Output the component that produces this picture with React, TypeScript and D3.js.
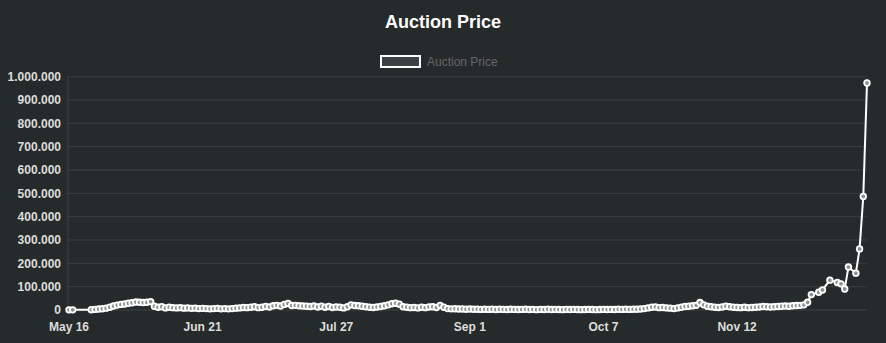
import React from 'react';
import * as d3 from 'd3';

// daily auction price, starting at firstDay; null = no auction that day
const firstDay = '2021-05-16';
const prices: (number | null)[] = [
  600, 700, null, null, null, null, 1200, 2500, 4000, 5500,
  8000, 12000, 17000, 21000, 24000, 26000, 29000, 31000, 34000, 33000,
  32000, 33000, 36000, 16000, 12000, 14000, 9000, 12000, 10000, 9000,
  10000, 8000, 9000, 7000, 8000, 6000, 7000, 6000, 5000, 6000,
  7000, 5000, 6000, 5000, 6000, 8000, 9000, 11000, 10000, 12000,
  14000, 10000, 12000, 15000, 13000, 18000, 20000, 17000, 24000, 28000,
  19000, 20000, 18000, 17000, 16000, 15000, 17000, 13000, 16000, 12000,
  15000, 11000, 13000, 12000, 9000, 14000, 22000, 19000, 18000, 16000,
  14000, 12000, 11000, 13000, 15000, 18000, 22000, 27000, 29000, 25000,
  14000, 12000, 10000, 11000, 9000, 12000, 10000, 13000, 14000, 11000,
  20000, 12000, 6000, 5000, 5500, 4000, 4500, 3500, 4000, 3000,
  3500, 2500, 3000, 2500, 3500, 2000, 3000, 2500, 2000, 3000,
  2500, 2000, 2500, 3000, 2000, 2500, 1500, 2500, 2000, 3000,
  2000, 2500, 2000, 1500, 2500, 2000, 2500, 2000, 1500, 2000,
  2500, 2000, 1500, 2000, 2500, 2000, 2500, 2000, 3000, 2500,
  3000, 2500, 3500, 3000, 4000, 6000, 9000, 12000, 13000, 10000,
  11000, 9000, 8000, 6000, 9000, 12000, 15000, 16000, 18000, 20000,
  32000, 22000, 16000, 14000, 12000, 11000, 13000, 16000, 14000, 12000,
  11000, 10000, 12000, 10000, 11000, 12000, 13000, 15000, 14000, 13000,
  14000, 15000, 16000, 17000, 16000, 18000, 19000, 20000, 22000, 33000,
  66000, null, 76000, 86000, null, 128000, null, 118000, 112000, 90000,
  184000, null, 158000, 262000, 487000, 973000,
];

const tickLabels = ['May 16', 'Jun 21', 'Jul 27', 'Sep 1', 'Oct 7', 'Nov 12'];
const priceTicks = [0, 100000, 200000, 300000, 400000, 500000, 600000, 700000, 800000, 900000, 1000000];

const title = 'Auction Price';
const seriesName = 'Auction Price';

const W = 886;
const H = 343;
const plot = { left: 68, right: 867, top: 76.7, bottom: 310 };

const font = '"Liberation Sans", Arial, Helvetica, sans-serif';
const bg = '#252b2b';
const grid = 'rgba(255,255,255,0.1)';
const boxFill = '#3c4242';
const pointFill = '#8a8f8f';

const parseDay = d3.timeParse('%Y-%m-%d');
const parseTick = d3.timeParse('%b %d %Y');
const fmt = d3.formatLocale({ decimal: ',', thousands: '.', grouping: [3], currency: ['', ''] }).format(',d');

export default function App() {
  const start = parseDay(firstDay) as Date;
  const data = prices
    .map((v, i) => ({ date: d3.timeDay.offset(start, i), value: v }))
    .filter((d) => d.value !== null) as { date: Date; value: number }[];

  const x = d3
    .scaleTime()
    .domain([start, data[data.length - 1].date])
    .range([plot.left + 1, plot.right]);
  const y = d3.scaleLinear().domain([0, 1000000]).range([plot.bottom, plot.top]);

  const line = d3
    .line<{ date: Date; value: number }>()
    .x((d) => x(d.date))
    .y((d) => y(d.value));

  const tickDates = tickLabels.map((t) => parseTick(`${t} 2021`) as Date);

  return (
    <svg
      width={W}
      height={H}
      style={{ position: 'absolute', left: 0, top: 0, background: bg, fontFamily: font }}
    >
      <rect width={W} height={H} fill={bg} />
      <text x={W / 2} y={28} textAnchor="middle" fontSize={18} fontWeight="bold" fill="#fff">
        {title}
      </text>

      {/* legend */}
      <rect x={381} y={56} width={39} height={11} fill={boxFill} stroke="#fff" strokeWidth={2} />
      <text x={427} y={66} fontSize={12} fill="#666">
        {seriesName}
      </text>

      {/* grid */}
      {priceTicks.map((t) => (
        <g key={t}>
          <line x1={plot.left} x2={plot.right} y1={y(t)} y2={y(t)} stroke={grid} strokeWidth={1} />
          <text
            x={61}
            y={y(t)}
            dy="0.35em"
            textAnchor="end"
            fontSize={12}
            fontWeight="bold"
            fill="#ddd"
          >
            {fmt(t)}
          </text>
        </g>
      ))}
      <line x1={plot.left} x2={plot.left} y1={plot.top} y2={plot.bottom} stroke={grid} />

      {tickDates.map((d, i) => (
        <text
          key={tickLabels[i]}
          x={x(d)}
          y={331}
          textAnchor="middle"
          fontSize={12}
          fontWeight="bold"
          fill="#ddd"
        >
          {tickLabels[i]}
        </text>
      ))}

      <path d={line(data) ?? ''} fill="none" stroke="#fff" strokeWidth={2} />
      {data.map((d, i) => (
        <circle
          key={i}
          cx={x(d.date)}
          cy={y(d.value)}
          r={2.8}
          fill={pointFill}
          stroke="#fff"
          strokeWidth={1.8}
        />
      ))}
    </svg>
  );
}
